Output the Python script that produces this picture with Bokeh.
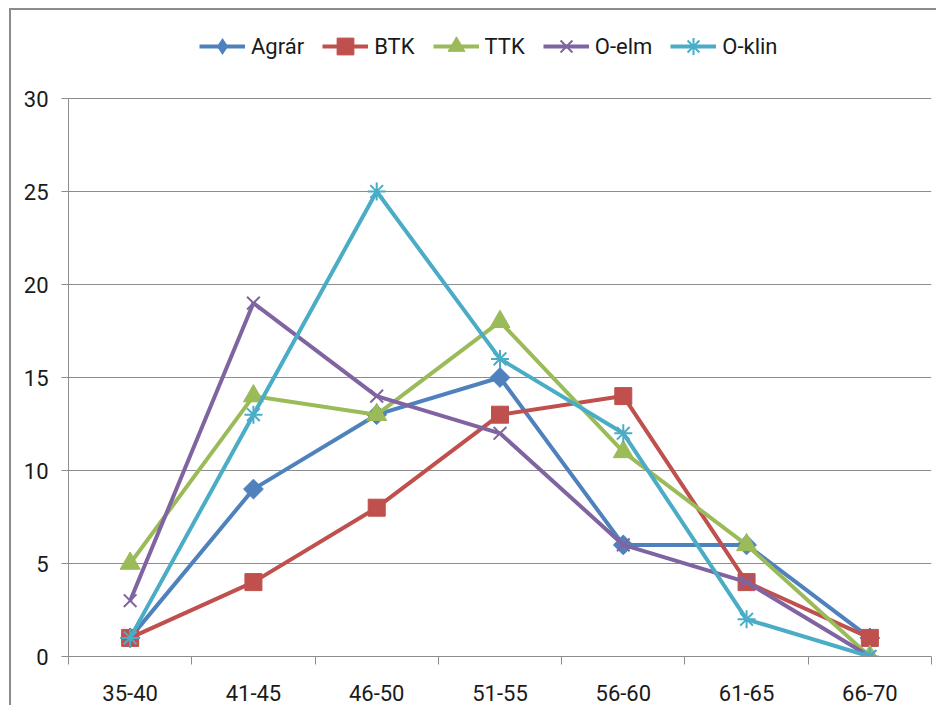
import math
from bokeh.plotting import figure
from bokeh.models import Range1d, FixedTicker, Legend, LegendItem
from bokeh.embed import file_html
from bokeh.resources import INLINE

categories = ["35-40", "41-45", "46-50", "51-55", "56-60", "61-65", "66-70"]
agrar = [1, 9, 13, 15, 6, 6, 1]
btk = [1, 4, 8, 13, 14, 4, 1]
ttk = [5, 14, 13, 18, 11, 6, 0]
o_elm = [3, 19, 14, 12, 6, 4, 0]
o_klin = [1, 13, 25, 16, 12, 2, 0]
y_ticks = [0, 5, 10, 15, 20, 25, 30]
y_max = 30

# name, values, colour, plot marker, size, angle, legend marker
series = [
    ("Agrár", agrar, "#4F81BD", "square", 14, math.pi / 4, "diamond"),
    ("BTK", btk, "#C0504D", "square", 17, 0, None),
    ("TTK", ttk, "#9BBB59", "triangle", 20, 0, None),
    ("O-elm", o_elm, "#8064A2", "x", 18, 0, None),
    ("O-klin", o_klin, "#4BACC6", "asterisk", 18, 0, None),
]

FONT = "Roboto"
GRAY = "#8c8c8c"
TXT = "#1a1a1a"

# layout (pixels): frame spans from TOP_PX to BOTTOM_PX, the value y_max sits at AXIS_TOP_PX
TOP_PX, AXIS_TOP_PX, BOTTOM_PX, H = 20, 98, 656, 705
range_top = y_max * (BOTTOM_PX - TOP_PX) / (BOTTOM_PX - AXIS_TOP_PX)

p = figure(width=936, height=H, output_backend="svg", toolbar_location=None,
           x_range=Range1d(0, len(categories)), y_range=Range1d(0, range_top),
           min_border_left=68, min_border_right=5, min_border_top=TOP_PX,
           min_border_bottom=H - BOTTOM_PX)
p.outline_line_color = None
p.background_fill_color = "white"
p.border_fill_alpha = 0
p.styles = {
    "background": ("linear-gradient(#8c8c8c,#8c8c8c) 9px 8px / 2px 100% no-repeat, "
                   "linear-gradient(#8c8c8c,#8c8c8c) 9px 8px / 100% 2px no-repeat, white"),
}

xs = [i + 0.5 for i in range(len(categories))]

items = []
for name, vals, color, marker, size, ang, leg_marker in series:
    r1 = p.line(xs, vals, line_color=color, line_width=4)
    if marker in ("x", "asterisk"):
        r2 = p.scatter(xs, vals, marker=marker, size=size, line_color=color,
                       line_width=2, fill_color=None)
    else:
        r2 = p.scatter(xs, vals, marker=marker, size=size, angle=ang,
                       line_color=color, fill_color=color, line_width=1)
    rs = [r1, r2]
    if leg_marker is not None:
        # marker shape used only for the legend entry (zero size on the plot)
        r3 = p.scatter(xs, vals, marker=leg_marker, size=0, line_color=None,
                       fill_color=color)
        rs = [r1, r3]
    items.append(LegendItem(label=name, renderers=rs))

legend = Legend(items=items, orientation="horizontal", location=(131, 589),
                padding=0, margin=0, spacing=18, label_standoff=6,
                glyph_width=46, glyph_height=42, label_height=20,
                label_text_font=FONT, label_text_font_size="22px",
                label_text_color=TXT,
                border_line_color=None, background_fill_alpha=0)
p.add_layout(legend, "center")

# x axis
p.xaxis.ticker = FixedTicker(ticks=xs, minor_ticks=list(range(len(categories) + 1)))
p.xaxis.major_label_overrides = {x: c for x, c in zip(xs, categories)}
p.xaxis.major_tick_out = 0
p.xaxis.major_tick_in = 0
p.xaxis.minor_tick_out = 8
p.xaxis.minor_tick_in = 0
p.xaxis.minor_tick_line_color = GRAY
p.xaxis.axis_line_color = GRAY
p.xaxis.major_label_standoff = 20
p.xaxis.major_label_text_font = FONT
p.xaxis.major_label_text_font_size = "22px"
p.xaxis.major_label_text_color = TXT

# y axis
yt = FixedTicker(ticks=y_ticks)
p.yaxis.ticker = yt
p.yaxis.bounds = (0, y_max)
p.yaxis.major_tick_out = 7
p.yaxis.major_tick_in = 0
p.yaxis.minor_tick_line_color = None
p.yaxis.major_tick_line_color = GRAY
p.yaxis.axis_line_color = GRAY
p.yaxis.major_label_standoff = 13
p.yaxis.major_label_text_font = FONT
p.yaxis.major_label_text_font_size = "22px"
p.yaxis.major_label_text_color = TXT

p.xgrid.visible = False
p.ygrid.ticker = yt
p.ygrid.grid_line_color = GRAY
p.ygrid.grid_line_width = 1

open("out.html", "w").write(file_html(p, INLINE))
